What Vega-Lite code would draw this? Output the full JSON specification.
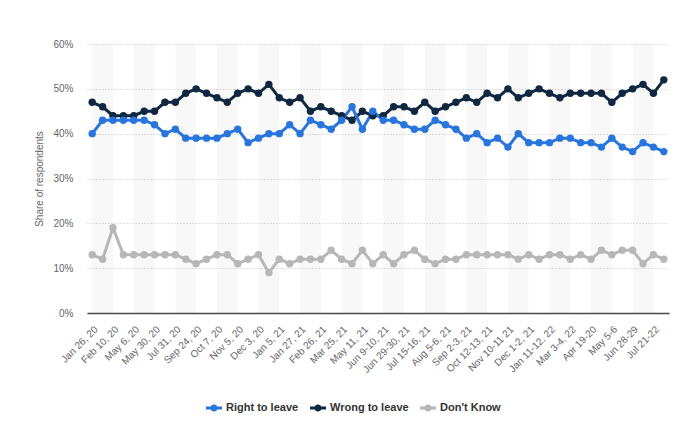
{
  "$schema": "https://vega.github.io/schema/vega-lite/v6.json",
  "width": 582,
  "height": 269,
  "autosize": {"type": "none"},
  "padding": {"left": 87, "top": 44, "right": 21, "bottom": 124},
  "background": "white",
  "config": {"font": "Liberation Sans", "view": {"stroke": null}},
  "datasets": {
    "polls": [
      {"i": 0, "poll": "Jan 26, 20", "right": 40, "wrong": 47, "dont_know": 13},
      {"i": 1, "right": 43, "wrong": 46, "dont_know": 12},
      {"i": 2, "poll": "Feb 10, 20", "right": 43, "wrong": 44, "dont_know": 19},
      {"i": 3, "right": 43, "wrong": 44, "dont_know": 13},
      {"i": 4, "poll": "May 6, 20", "right": 43, "wrong": 44, "dont_know": 13},
      {"i": 5, "right": 43, "wrong": 45, "dont_know": 13},
      {"i": 6, "poll": "May 30, 20", "right": 42, "wrong": 45, "dont_know": 13},
      {"i": 7, "right": 40, "wrong": 47, "dont_know": 13},
      {"i": 8, "poll": "Jul 31, 20", "right": 41, "wrong": 47, "dont_know": 13},
      {"i": 9, "right": 39, "wrong": 49, "dont_know": 12},
      {"i": 10, "poll": "Sep 24, 20", "right": 39, "wrong": 50, "dont_know": 11},
      {"i": 11, "right": 39, "wrong": 49, "dont_know": 12},
      {"i": 12, "poll": "Oct 7, 20", "right": 39, "wrong": 48, "dont_know": 13},
      {"i": 13, "right": 40, "wrong": 47, "dont_know": 13},
      {"i": 14, "poll": "Nov 5, 20", "right": 41, "wrong": 49, "dont_know": 11},
      {"i": 15, "right": 38, "wrong": 50, "dont_know": 12},
      {"i": 16, "poll": "Dec 3, 20", "right": 39, "wrong": 49, "dont_know": 13},
      {"i": 17, "right": 40, "wrong": 51, "dont_know": 9},
      {"i": 18, "poll": "Jan 5, 21", "right": 40, "wrong": 48, "dont_know": 12},
      {"i": 19, "right": 42, "wrong": 47, "dont_know": 11},
      {"i": 20, "poll": "Jan 27, 21", "right": 40, "wrong": 48, "dont_know": 12},
      {"i": 21, "right": 43, "wrong": 45, "dont_know": 12},
      {"i": 22, "poll": "Feb 26, 21", "right": 42, "wrong": 46, "dont_know": 12},
      {"i": 23, "right": 41, "wrong": 45, "dont_know": 14},
      {"i": 24, "poll": "Mar 25, 21", "right": 43, "wrong": 44, "dont_know": 12},
      {"i": 25, "right": 46, "wrong": 43, "dont_know": 11},
      {"i": 26, "poll": "May 11, 21", "right": 41, "wrong": 45, "dont_know": 14},
      {"i": 27, "right": 45, "wrong": 44, "dont_know": 11},
      {"i": 28, "poll": "Jun 9-10, 21", "right": 43, "wrong": 44, "dont_know": 13},
      {"i": 29, "right": 43, "wrong": 46, "dont_know": 11},
      {"i": 30, "poll": "Jun 29-30, 21", "right": 42, "wrong": 46, "dont_know": 13},
      {"i": 31, "right": 41, "wrong": 45, "dont_know": 14},
      {"i": 32, "poll": "Jul 15-16, 21", "right": 41, "wrong": 47, "dont_know": 12},
      {"i": 33, "right": 43, "wrong": 45, "dont_know": 11},
      {"i": 34, "poll": "Aug 5-6, 21", "right": 42, "wrong": 46, "dont_know": 12},
      {"i": 35, "right": 41, "wrong": 47, "dont_know": 12},
      {"i": 36, "poll": "Sep 2-3, 21", "right": 39, "wrong": 48, "dont_know": 13},
      {"i": 37, "right": 40, "wrong": 47, "dont_know": 13},
      {"i": 38, "poll": "Oct 12-13, 21", "right": 38, "wrong": 49, "dont_know": 13},
      {"i": 39, "right": 39, "wrong": 48, "dont_know": 13},
      {"i": 40, "poll": "Nov 10-11 21", "right": 37, "wrong": 50, "dont_know": 13},
      {"i": 41, "right": 40, "wrong": 48, "dont_know": 12},
      {"i": 42, "poll": "Dec 1-2, 21", "right": 38, "wrong": 49, "dont_know": 13},
      {"i": 43, "right": 38, "wrong": 50, "dont_know": 12},
      {"i": 44, "poll": "Jan 11-12, 22", "right": 38, "wrong": 49, "dont_know": 13},
      {"i": 45, "right": 39, "wrong": 48, "dont_know": 13},
      {"i": 46, "poll": "Mar 3-4, 22", "right": 39, "wrong": 49, "dont_know": 12},
      {"i": 47, "right": 38, "wrong": 49, "dont_know": 13},
      {"i": 48, "poll": "Apr 19-20", "right": 38, "wrong": 49, "dont_know": 12},
      {"i": 49, "right": 37, "wrong": 49, "dont_know": 14},
      {"i": 50, "poll": "May 5-6", "right": 39, "wrong": 47, "dont_know": 13},
      {"i": 51, "right": 37, "wrong": 49, "dont_know": 14},
      {"i": 52, "poll": "Jun 28-29", "right": 36, "wrong": 50, "dont_know": 14},
      {"i": 53, "right": 38, "wrong": 51, "dont_know": 11},
      {"i": 54, "poll": "Jul 21-22", "right": 37, "wrong": 49, "dont_know": 13},
      {"i": 55, "right": 36, "wrong": 52, "dont_know": 12}
    ]
  },
  "data": {"name": "polls"},
  "encoding": {
    "x": {
      "field": "i",
      "type": "quantitative",
      "scale": {"domain": [-0.5, 55.5], "nice": false, "zero": false},
      "axis": {
        "title": null,
        "values": [0, 2, 4, 6, 8, 10, 12, 14, 16, 18, 20, 22, 24, 26, 28, 30, 32, 34, 36, 38, 40, 42, 44, 46, 48, 50, 52, 54],
        "labelExpr": "data('polls')[datum.value].poll",
        "labelAngle": -45,
        "labelFontSize": 10,
        "labelColor": "#666666",
        "labelPadding": 11,
        "labelOverlap": false,
        "labelBound": false,
        "labelFlush": false,
        "ticks": false,
        "grid": false,
        "domainColor": "#4a4a4a",
        "domainWidth": 1.5,
        "zindex": 1
      }
    }
  },
  "layer": [
    {
      "transform": [
        {"filter": "datum.i % 4 == 0"},
        {"calculate": "datum.i + 2", "as": "bandEnd"}
      ],
      "mark": {"type": "rect", "fill": "#000000", "opacity": 0.028},
      "encoding": {
        "x2": {"field": "bandEnd"},
        "y": {"datum": 60, "type": "quantitative"},
        "y2": {"datum": 0}
      }
    },
    {
      "transform": [
        {"fold": ["dont_know", "wrong", "right"], "as": ["key", "share"]},
        {"calculate": "datum.key == 'right' ? 'Right to leave' : datum.key == 'wrong' ? 'Wrong to leave' : \"Don't Know\"", "as": "answer"}
      ],
      "mark": {"type": "line", "strokeWidth": 3, "point": {"filled": true, "size": 55, "opacity": 1}},
      "encoding": {
        "y": {
          "field": "share",
          "type": "quantitative",
          "scale": {"domain": [0, 60], "nice": false},
          "axis": {
            "title": "Share of respondents",
            "values": [0, 10, 20, 30, 40, 50, 60],
            "labelExpr": "datum.value + '%'",
            "domain": false,
            "ticks": false,
            "grid": true,
            "gridDash": [1, 2],
            "gridColor": "#c4c4c4",
            "labelColor": "#666666",
            "labelFontSize": 10,
            "labelPadding": 14,
            "titleColor": "#666666",
            "titleFontSize": 10,
            "titleFontWeight": "normal",
            "titlePadding": 8
          }
        },
        "color": {
          "field": "answer",
          "type": "nominal",
          "scale": {
            "domain": ["Right to leave", "Wrong to leave", "Don't Know"],
            "range": ["#2876dd", "#0f2740", "#b7b7b7"]
          },
          "legend": {
            "title": null,
            "orient": "none",
            "legendX": 119,
            "legendY": 356,
            "direction": "horizontal",
            "symbolType": "M-1,-0.19H1V0.19H-1Z M0.45,0A0.45,0.45 0 1,1 -0.45,0A0.45,0.45 0 1,1 0.45,0Z",
            "symbolSize": 256,
            "symbolStrokeWidth": 0,
            "symbolOpacity": 1,
            "labelFontSize": 11,
            "labelFontWeight": "bold",
            "labelColor": "#333333",
            "labelOffset": 4,
            "columnPadding": 11,
            "encode": {
              "symbols": {
                "update": {
                  "fill": {"scale": "color", "field": "value"},
                  "strokeWidth": {"value": 0}
                }
              }
            }
          }
        }
      }
    }
  ]
}
